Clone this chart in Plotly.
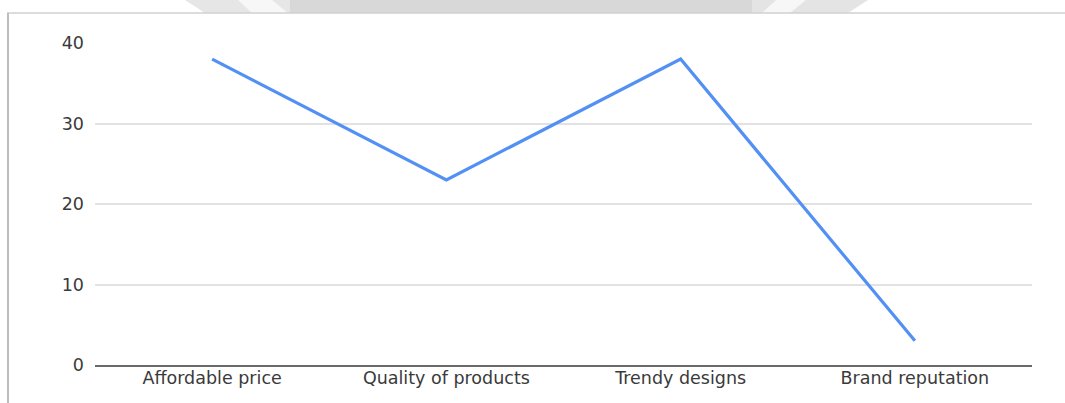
import plotly.graph_objects as go

categories = ["Affordable price", "Quality of products", "Trendy designs", "Brand reputation"]
values = [38, 23, 38, 3]
y_ticks = [0, 10, 20, 30, 40]

W, H = 1065, 403
ml, mr, mt, mb = 95, 33, 43, 38
PW, PH = W - ml - mr, H - mt - mb


def px(x):
    return (x - ml) / PW


def py(y):
    return (H - mb - y) / PH


def poly(points):
    return "M " + " L ".join(f"{px(x):.5f} {py(y):.5f}" for x, y in points) + " Z"


fig = go.Figure()
fig.add_trace(go.Scatter(
    x=categories, y=values, mode="lines",
    line=dict(color="#5390f5", width=3.2),
    hoverinfo="skip", showlegend=False,
))

tick_font = dict(family="DejaVu Sans, Verdana, sans-serif", size=17.5, color="#3a3a3a")

shapes = [
    # faded watermark band at the top of the screenshot
    dict(type="path", xref="paper", yref="paper", layer="below",
         path=poly([(185, 0), (290, 0), (290, 13), (205, 13)]),
         fillcolor="#e6e6e6", line=dict(width=0)),
    dict(type="path", xref="paper", yref="paper", layer="below",
         path=poly([(238, 0), (272, 0), (288, 13), (252, 13)]),
         fillcolor="#f7f7f7", line=dict(width=0)),
    dict(type="rect", xref="paper", yref="paper", layer="below",
         x0=px(290), x1=px(752), y0=py(13), y1=py(0),
         fillcolor="#d8d8d8", line=dict(width=0)),
    dict(type="path", xref="paper", yref="paper", layer="below",
         path=poly([(752, 0), (868, 0), (848, 13), (752, 13)]),
         fillcolor="#e4e4e4", line=dict(width=0)),
    dict(type="path", xref="paper", yref="paper", layer="below",
         path=poly([(776, 0), (806, 0), (790, 13), (762, 13)]),
         fillcolor="#f7f7f7", line=dict(width=0)),
    # card frame: top and left edges
    dict(type="line", xref="paper", yref="paper",
         x0=px(7), x1=px(W), y0=py(13), y1=py(13),
         line=dict(color="#d0d0d0", width=1.5)),
    dict(type="line", xref="paper", yref="paper",
         x0=px(8), x1=px(8), y0=py(H), y1=py(13),
         line=dict(color="#bdbdbd", width=2)),
]

fig.update_layout(
    width=W, height=H,
    margin=dict(l=ml, r=mr, t=mt, b=mb),
    paper_bgcolor="white", plot_bgcolor="white",
    font=tick_font,
    xaxis=dict(
        showgrid=False, showline=True, linecolor="#6a6a6a", linewidth=1.5,
        ticks="", tickfont=tick_font, range=[-0.5, 3.5], zeroline=False,
        ticklabelstandoff=-4,
    ),
    yaxis=dict(
        range=[0, 40], tickvals=y_ticks, showgrid=True, gridcolor="#e2e2e2",
        gridwidth=1.5, zeroline=False, showline=False, ticks="",
        tickfont=tick_font, ticklabelstandoff=10,
    ),
    shapes=shapes,
)

fig.write_html("out.html")
